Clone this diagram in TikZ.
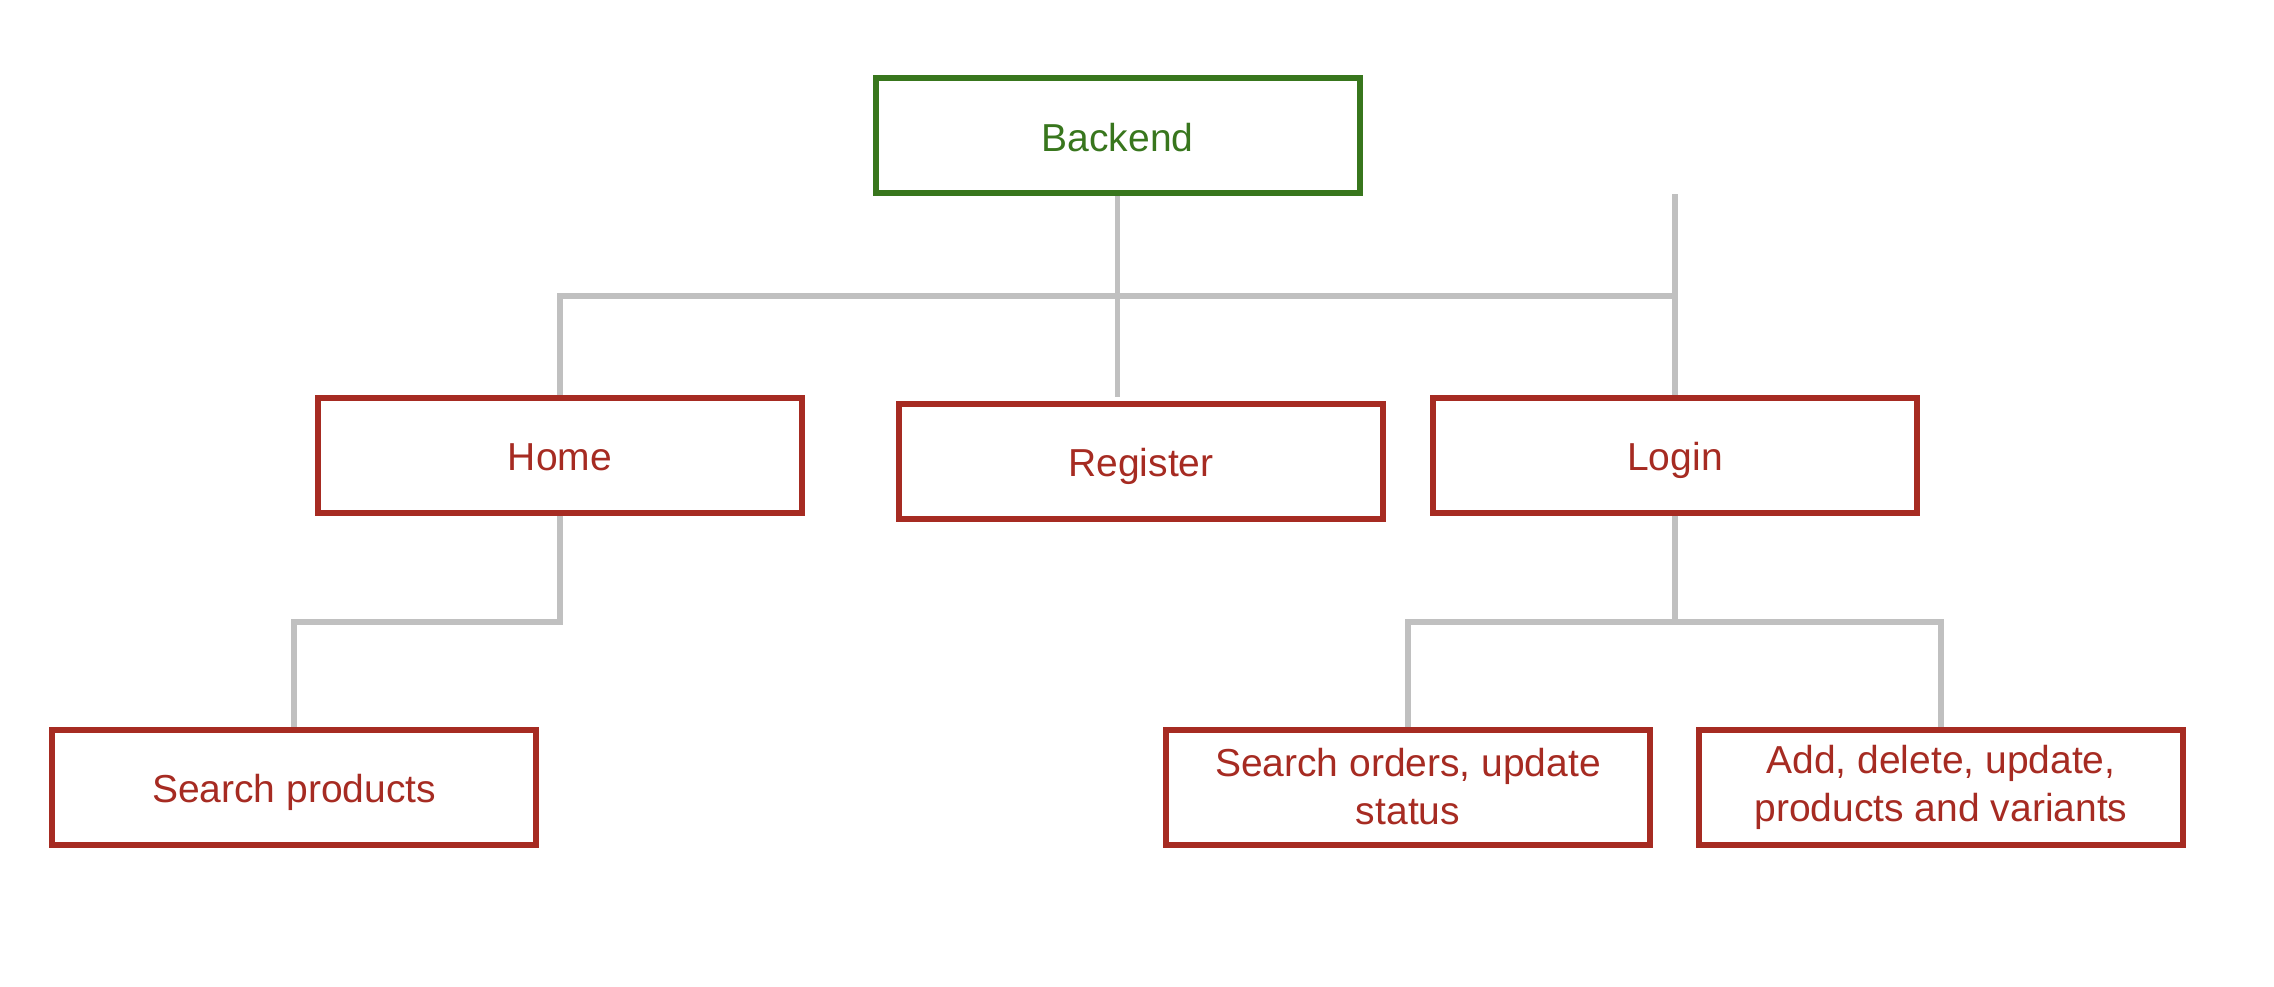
\documentclass[tikz,border=0pt]{standalone}
\usepackage{fontspec}
\setmainfont{Liberation Sans}
\definecolor{boxred}{HTML}{A62B22}
\definecolor{boxgreen}{HTML}{38761D}
\definecolor{conngray}{HTML}{C0C0C0}
\begin{document}
\begin{tikzpicture}[x=1pt,y=-1pt,
  box/.style={draw=boxred,text=boxred,line width=6pt,minimum width=484pt,minimum height=115pt,
    align=center,inner sep=0pt,font=\fontsize{39}{48}\selectfont},
  oneline/.style={text height=36pt,text depth=5pt},
  rootbox/.style={box,oneline,draw=boxgreen,text=boxgreen},
  conn/.style={draw=conngray,line width=5.5pt}]
\useasboundingbox (0,0) rectangle (2274,986);
\node[rootbox] (backend) at (1117.5,135.6) {Backend};
\node[box,oneline] (home) at (560,455.4) {Home};
\node[box,oneline] (register) at (1141,461) {Register};
\node[box,oneline] (login) at (1675,455.4) {Login};
\node[box,oneline] (sp) at (294,787) {Search products};
\node[box] (so) at (1408,787) {Search orders, update\\status};
\node[box] (ad) at (1941,787) {Add, delete, update,\\products and variants};
\coordinate (bus) at (0,296);
\coordinate (bus2) at (0,622);
\coordinate (regend) at (1117.5,397);
\coordinate (tail) at (1675,194);
\draw[conn] (home.north) -- (home.north |- bus) -- (login.north |- bus) -- (login.north);
\draw[conn] (tail) -- (login.north);
\draw[conn] (backend.south) -- (regend);
\draw[conn] (home.south) -- (home.south |- bus2) -- (sp.north |- bus2) -- (sp.north);
\draw[conn] (so.north) -- (so.north |- bus2) -- (ad.north |- bus2) -- (ad.north);
\draw[conn] (login.south) -- (login.south |- bus2);
\end{tikzpicture}
\end{document}
